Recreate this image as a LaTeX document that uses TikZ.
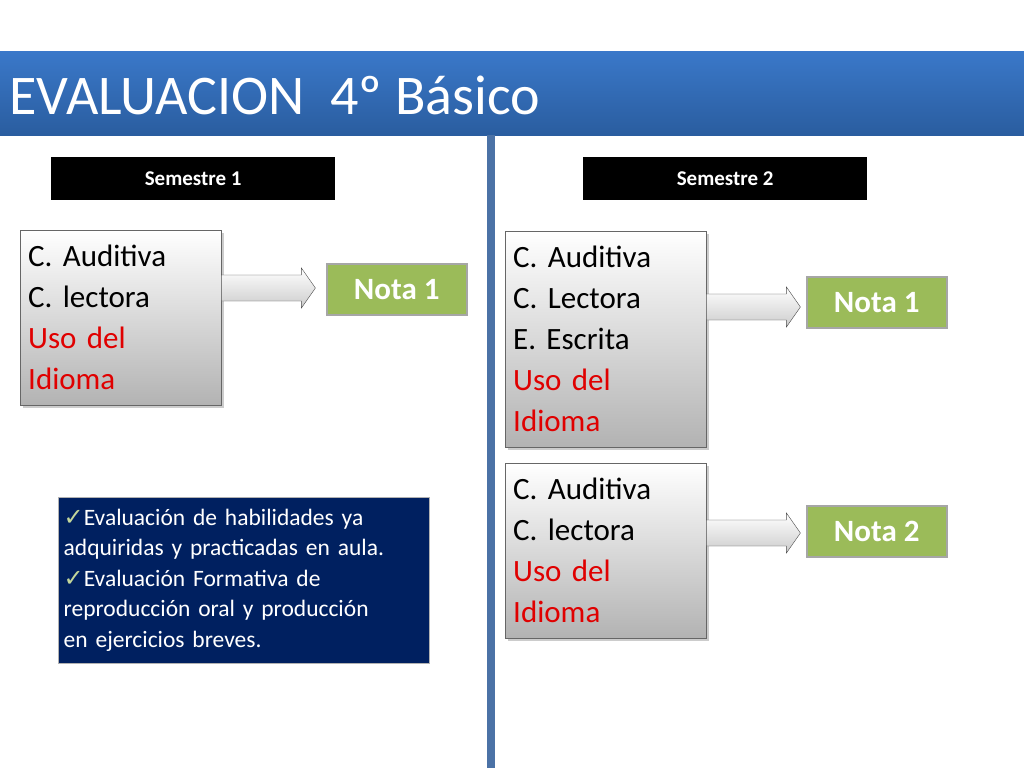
\documentclass[tikz,border=0pt]{standalone}
\usepackage{fontspec}
\setmainfont{Carlito}
\usetikzlibrary{shadows}
\definecolor{tblue}{HTML}{3A78C9}
\definecolor{tblued}{HTML}{2A5D9F}
\definecolor{vline}{HTML}{4B72A6}
\definecolor{ngreen}{HTML}{9BBB59}
\definecolor{navy}{HTML}{002060}
\definecolor{ured}{HTML}{E00000}
\newcommand{\myspc}{\frenchspacing\spaceskip=0.23em plus 0em\relax}
\tikzset{
 sem/.style={fill=black,text=white,font=\fontsize{21}{22}\selectfont\bfseries\myspc,anchor=north west,minimum height=43,inner sep=0},
 gbox/.style={draw=gray!80!black,top color=white,bottom color=black!30,anchor=north west,align=left,text width=185,inner sep=8,
   font=\fontsize{31}{41}\selectfont\myspc,drop shadow={shadow xshift=3pt,shadow yshift=-3pt,opacity=.4}},
 nota/.style={fill=ngreen,draw=gray!70,line width=1.5pt,text=white,font=\fontsize{31}{32}\selectfont\bfseries\myspc,anchor=north west,minimum width=140,minimum height=51,inner sep=0},
 barrow/.style={draw=black!70,top color=white,bottom color=black!20}
}
\newcommand{\blockarrow}[1]{%
 \path[barrow] ([yshift=-13]#1) -- ++(80,0) -- ++(0,7) -- ++(14,-20) -- ++(-14,-20) -- ++(0,7) -- ++(-80,0) -- cycle;}
\newcommand{\chk}{{\fontspec{DejaVu Sans}\color{ngreen!60!white}\fontsize{24}{30}\selectfont ✓}}
\begin{document}
\begin{tikzpicture}[x=1pt,y=-1pt]
\useasboundingbox (0,0) rectangle (1024,768);
\fill[white] (0,0) rectangle (1024,768);
\shade[top color=tblue,bottom color=tblued] (0,52) rectangle (1024,135);
\node[anchor=west,text=white,font=\fontsize{56}{60}\selectfont\myspc] (title) at (6,95) {EVALUACION\ \ 4º Básico};
\coordinate (vt) at (491,135); \coordinate (vb) at (491,768);
\draw[vline,line width=8pt] (vt) -- (vb);
\node[sem,minimum width=284] (s1) at (51,157) {Semestre 1};
\node[sem,minimum width=284] (s2) at (583,157) {Semestre 2};
\node[gbox,minimum height=175] (b1) at (20,230) {C. Auditiva\\C. lectora\\\textcolor{ured}{Uso del}\\\textcolor{ured}{Idioma}};
\node[gbox,minimum height=216] (b2) at (505,231) {C. Auditiva\\C. Lectora\\E. Escrita\\\textcolor{ured}{Uso del}\\\textcolor{ured}{Idioma}};
\node[gbox,minimum height=175] (b3) at (505,463) {C. Auditiva\\C. lectora\\\textcolor{ured}{Uso del}\\\textcolor{ured}{Idioma}};
\node[nota] (n1) at (326,263) {Nota 1};
\node[nota] (n2) at (806,276) {Nota 1};
\node[nota] (n3) at (806,505) {Nota 2};
\coordinate (a1) at (b1.east|-0,288);
\coordinate (a2) at (b2.east|-0,307);
\coordinate (a3) at (b3.east|-0,533);
\blockarrow{a1} \blockarrow{a2} \blockarrow{a3}
\node[fill=navy,draw=gray!60,anchor=north west,minimum width=371,minimum height=166,text width=360,inner sep=5,align=left,text=white,font=\fontsize{23.5}{30.5}\selectfont\myspc] (nb) at (58,497)
 {\chk Evaluación de habilidades ya\\adquiridas y practicadas en aula.\\
 \chk Evaluación Formativa de\\reproducción oral y producción\\en ejercicios breves.};
\end{tikzpicture}
\end{document}
